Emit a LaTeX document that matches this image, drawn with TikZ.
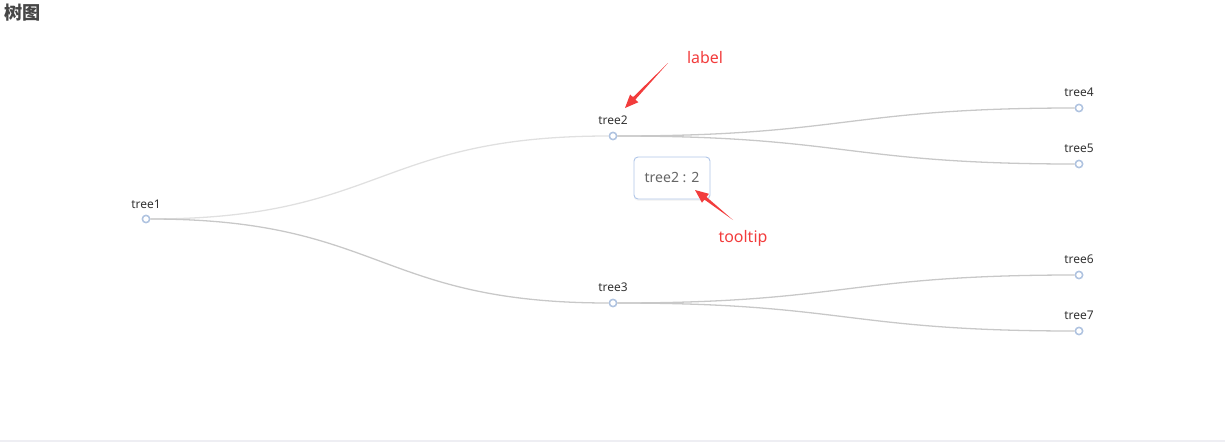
\documentclass[tikz,border=0pt]{standalone}
\usepackage{fontspec}
\setmainfont{Noto Sans}
\newfontfamily\cjkfont{Noto Sans CJK SC}
\usetikzlibrary{calc,shadows}

\definecolor{edgegray}{HTML}{C8C8C8}
\definecolor{edgelight}{HTML}{E0E0E0}
\definecolor{nodeblue}{HTML}{AFC3E0}
\definecolor{lbltext}{HTML}{333333}
\definecolor{annotred}{HTML}{F23C3C}
\definecolor{tipborder}{HTML}{B0C6E8}
\definecolor{tiptext}{HTML}{666666}
\definecolor{titlegray}{HTML}{464646}
\definecolor{footline}{HTML}{EEEEF3}

\begin{document}
\begin{tikzpicture}[x=0.03cm,y=-0.03cm,
  leaf/.style={circle,draw=nodeblue,fill=white,line width=1.3pt,inner sep=0pt,minimum size=0.22cm},
  lbl/.style={text=lbltext,inner sep=0pt,font=\fontsize{10.2}{12}\selectfont},
  edge/.style={draw=edgegray,line width=1.1pt},
  annot/.style={fill=annotred},
  annottext/.style={text=annotred,inner sep=0pt,font=\fontsize{13.6}{16}\selectfont},
  tipbox/.style={draw=tipborder,fill=white,line width=0.8pt,rounded corners=0.12cm,
    minimum width=2.28cm,minimum height=1.26cm,text=tiptext,font=\fontsize{12}{14}\selectfont,
    drop shadow={opacity=0.08,shadow xshift=0pt,shadow yshift=-1.5pt}}]
\useasboundingbox (0,0) rectangle (1225,442);

% title and bottom rule
\node[anchor=west,inner sep=0pt,text=titlegray,font=\fontsize{15.5}{18}\selectfont] (ttl) at (4,13) {\cjkfont\bfseries 树图};
\draw[footline,line width=1.7pt] (0,441) -- (1225,441);

% tree nodes
\node[leaf] (t1) at (146,219) {};
\node[leaf] (t2) at (613,136) {};
\node[leaf] (t3) at (613,303) {};
\node[leaf] (t4) at (1079,108) {};
\node[leaf] (t5) at (1079,164) {};
\node[leaf] (t6) at (1079,275) {};
\node[leaf] (t7) at (1079,331) {};

\node[lbl] (t1l) at (146,204) {tree1};
\node[lbl] (t2l) at (613,120) {tree2};
\node[lbl] (t3l) at (613,287) {tree3};
\node[lbl] (t4l) at (1079,92) {tree4};
\node[lbl] (t5l) at (1079,148) {tree5};
\node[lbl] (t6l) at (1079,259) {tree6};
\node[lbl] (t7l) at (1079,315) {tree7};

% edges
\draw[edge,draw=edgelight] (t1) to[out=0,in=180,looseness=1.27] (t2);
\draw[edge] (t1) to[out=0,in=180,looseness=1.27] (t3);
\draw[edge] (t2) to[out=0,in=180,looseness=1.28] (t4);
\draw[edge] (t2) to[out=0,in=180,looseness=1.28] (t5);
\draw[edge] (t3) to[out=0,in=180,looseness=1.28] (t6);
\draw[edge] (t3) to[out=0,in=180,looseness=1.28] (t7);

% tooltip
\node[tipbox] (tip) at (672,178) {tree2 : 2};

% annotations
\node[annottext] (lblnote) at (705,58) {label};
\node[annottext] (tipnote) at (743,238) {tooltip};

\coordinate (lblTail) at (668,63);
\coordinate (lblTip) at (625,108);
\coordinate (lblBase) at ($(lblTip)!0.4cm!(lblTail)$);
\fill[annot] (lblTail) -- ($(lblBase)!0.05cm!90:(lblTail)$) -- ($(lblBase)!0.17cm!90:(lblTail)$)
  -- (lblTip) -- ($(lblBase)!0.17cm!-90:(lblTail)$) -- ($(lblBase)!0.05cm!-90:(lblTail)$) -- cycle;

\coordinate (tipTail) at (733,220);
\coordinate (tipTip) at (695,190);
\coordinate (tipBase) at ($(tipTip)!0.4cm!(tipTail)$);
\fill[annot] (tipTail) -- ($(tipBase)!0.05cm!90:(tipTail)$) -- ($(tipBase)!0.17cm!90:(tipTail)$)
  -- (tipTip) -- ($(tipBase)!0.17cm!-90:(tipTail)$) -- ($(tipBase)!0.05cm!-90:(tipTail)$) -- cycle;

\end{tikzpicture}
\end{document}
